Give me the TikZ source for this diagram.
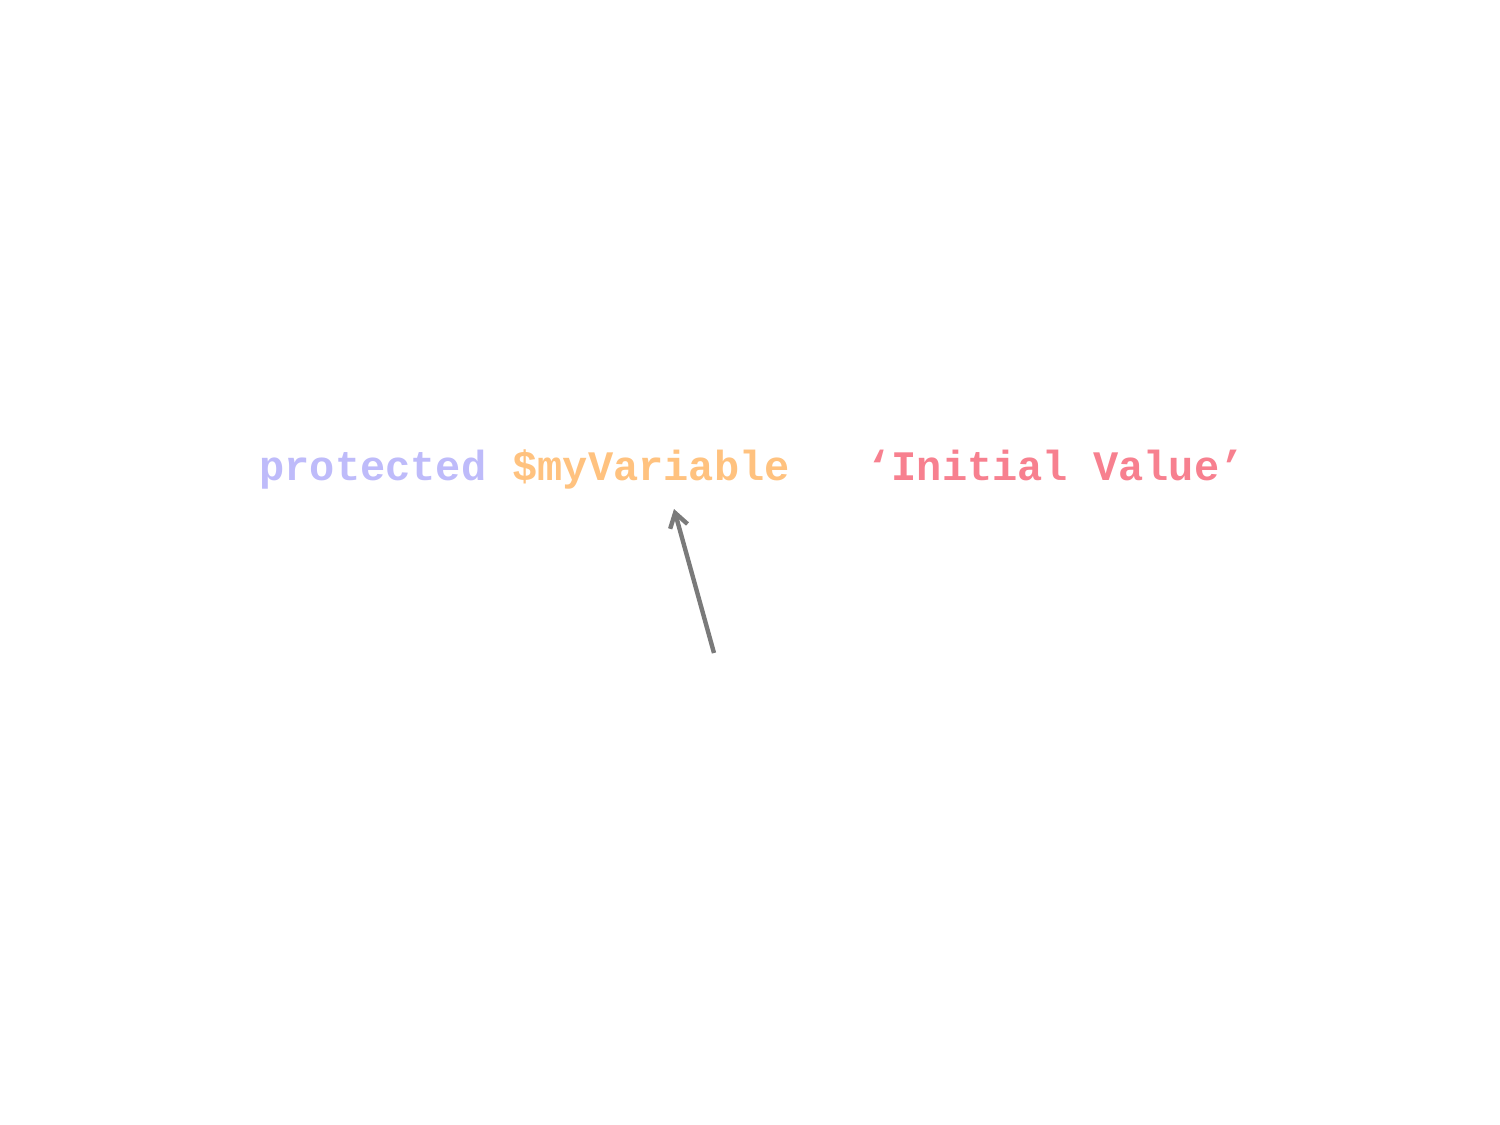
\documentclass[tikz,border=0pt]{standalone}
\usepackage{fontspec}
\setmonofont{Liberation Mono}
\usetikzlibrary{arrows.meta}
\definecolor{kwcol}{HTML}{BEBBFA}
\definecolor{varcol}{HTML}{FFC27F}
\definecolor{strcol}{HTML}{F7808F}
\definecolor{arrcol}{HTML}{7A7A7A}
\tikzset{
  code/.style={font=\ttfamily\bfseries\fontsize{21pt}{25pt}\selectfont, inner sep=0pt, anchor=base west},
  pointer/.style={draw=arrcol, line width=2.2pt, -{Straight Barb[length=7pt,width=9pt,line width=2.2pt]}}
}
\begin{document}
\begin{tikzpicture}[x=0.5pt,y=-0.5pt]
\useasboundingbox (0,0) rectangle (1500,1125);
\node[code, text=kwcol] (prot) at (259,480) {protected};
\node[code, text=varcol] (var) at (512,480) {\$myVariable};
\node[code, text=strcol] (val) at (866,480) {‘Initial Value’};
\coordinate (tail) at (714,653);
\coordinate (head) at (674,509);
\draw[pointer] (tail) -- (head);
\end{tikzpicture}
\end{document}
